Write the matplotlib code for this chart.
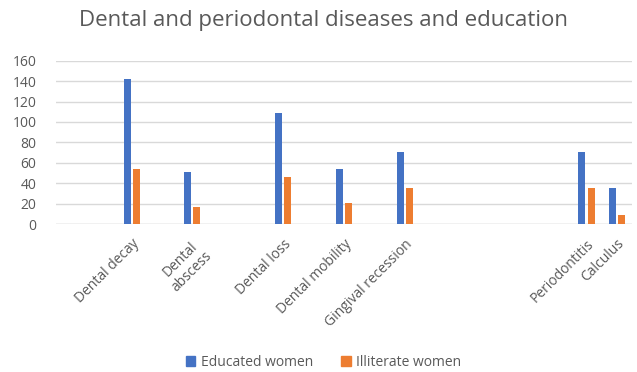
import numpy as np
import matplotlib.pyplot as plt

plt.rcParams['font.family'] = ['Open Sans', 'DejaVu Sans']

# 19 slots on the category axis, only some of them carry data
n_slots = 19
slots = [2, 4, 7, 9, 11, 17, 18]
labels = ['Dental decay', 'Dental\nabscess', 'Dental loss', 'Dental mobility',
          'Gingival recession', 'Periodontitis', 'Calculus']
educated = [142, 51, 109, 54, 71, 71, 35]
illiterate = [54, 17, 46, 21, 35, 35, 9]

blue = '#4472C4'
orange = '#ED7D31'
grey = '#595959'

fig = plt.figure(figsize=(6.37, 3.72), dpi=100)
ax = fig.add_axes([56 / 637, 148 / 372, 576 / 637, 163.3 / 372])

x = np.array(slots, dtype=float)
w = 0.23
ax.bar(x - 0.15, educated, width=w, color=blue, zorder=3)
ax.bar(x + 0.15, illiterate, width=w, color=orange, zorder=3)

ax.set_xlim(-0.5, n_slots - 0.5)
ax.set_ylim(0, 160)
ax.set_yticks(range(0, 161, 20))
ax.yaxis.grid(True, color='#D9D9D9', linewidth=1, zorder=0)
for s in ax.spines.values():
    s.set_visible(False)
ax.axhline(0, color='#D9D9D9', linewidth=1, zorder=2)
ax.tick_params(axis='y', length=0, labelsize=10, labelcolor=grey, pad=14)
ax.tick_params(axis='x', length=0, labelsize=10, labelcolor=grey, pad=9)

ax.set_xticks(x)
ax.set_xticklabels(labels, rotation=45, ha='right', va='top',
                   rotation_mode='anchor', multialignment='center')

fig.text(0.508, 0.945, 'Dental and periodontal diseases and education',
         ha='center', va='center', fontsize=16, color=grey)

handles = [plt.Rectangle((0, 0), 1, 1, color=blue),
           plt.Rectangle((0, 0), 1, 1, color=orange)]
fig.legend(handles, ['Educated women', 'Illiterate women'], loc='center',
           bbox_to_anchor=(0.508, 0.025), ncol=2, frameon=False, fontsize=10,
           labelcolor=grey, handlelength=0.7, handleheight=0.7,
           handletextpad=0.4, columnspacing=2.0)

fig.savefig('out.png', dpi=100)
